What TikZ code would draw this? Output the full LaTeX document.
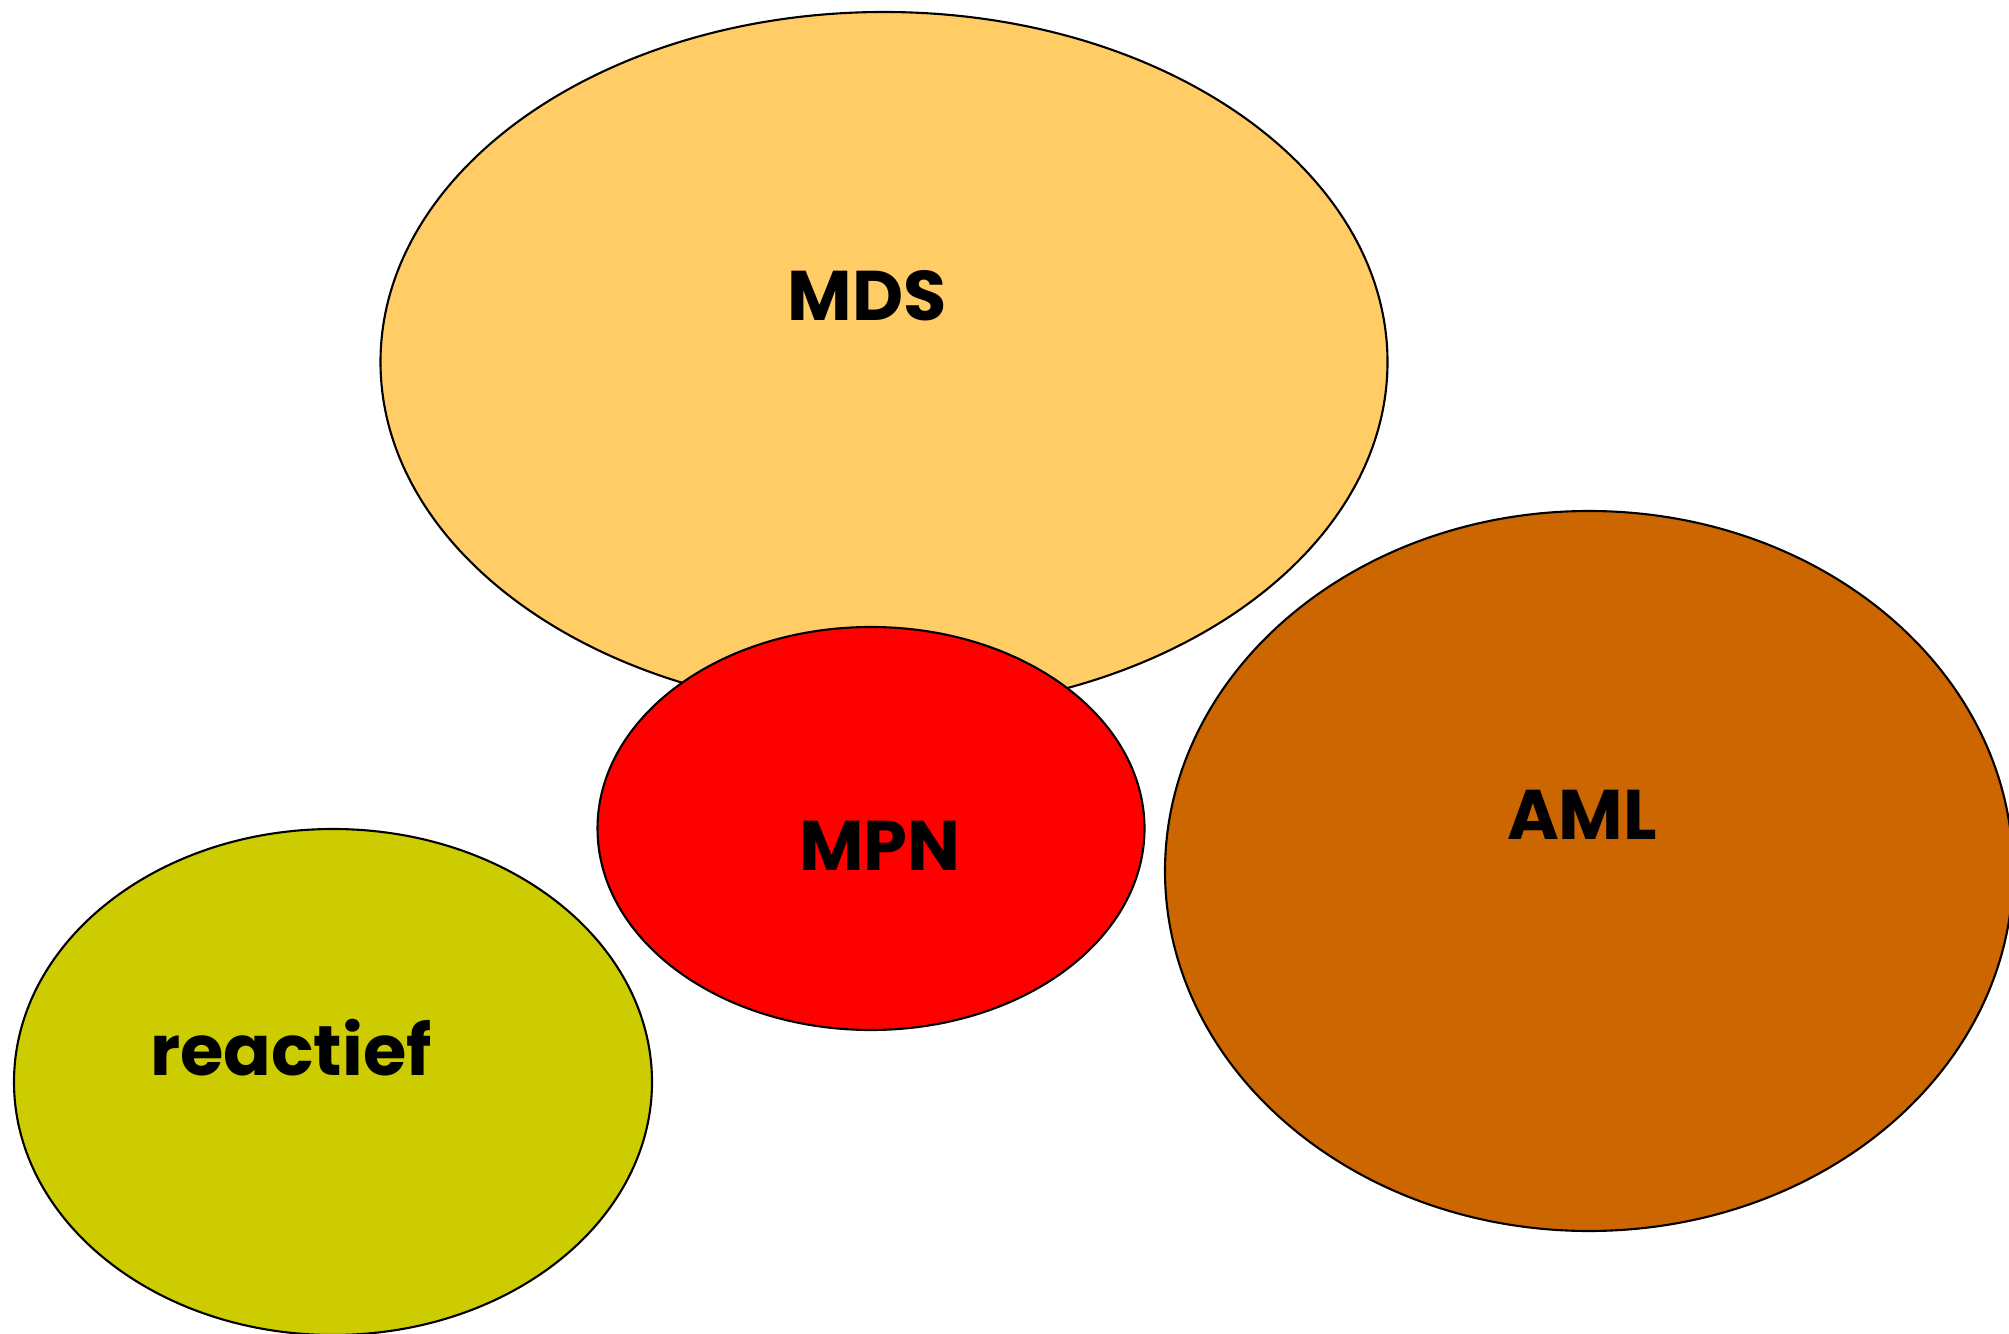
\documentclass[tikz,border=0pt]{standalone}
\usepackage{fontspec}
\setmainfont{Poppins}
\usepackage{xcolor}
\usepackage{tikz}
\usetikzlibrary{positioning}

\definecolor{mdsgold}{RGB}{255,204,102}
\definecolor{mpnred}{RGB}{255,0,0}
\definecolor{amlbrown}{RGB}{204,102,0}
\definecolor{reactgreen}{RGB}{204,204,0}

\begin{document}
\begin{tikzpicture}[
  blob/.style={draw=black, line width=0.6pt},
  tag/.style={font=\fontsize{20}{22}\selectfont\bfseries, text=black}
]

\useasboundingbox[fill=white] (0,0) rectangle (20.09,13.33);

% MDS
\draw[blob, fill=mdsgold] (8.84,9.71) ellipse [x radius=5.035, y radius=3.50];
\node[tag] (mds) at (8.67,10.37) {MDS};

% MPN, sits on top of MDS
\draw[blob, fill=mpnred] (8.71,5.045) ellipse [x radius=2.735, y radius=2.015];
\node[tag] (mpn) at (8.80,4.87) {MPN};

% AML, runs off the right edge
\draw[blob, fill=amlbrown] (15.89,4.62) ellipse [x radius=4.24, y radius=3.60];
\node[tag] (aml) at (15.82,5.18) {AML};

% reactief, runs off the bottom edge
\draw[blob, fill=reactgreen] (3.33,2.51) ellipse [x radius=3.19, y radius=2.53];
\node[tag] (reactief) at (2.91,2.85) {reactief};

\end{tikzpicture}
\end{document}
